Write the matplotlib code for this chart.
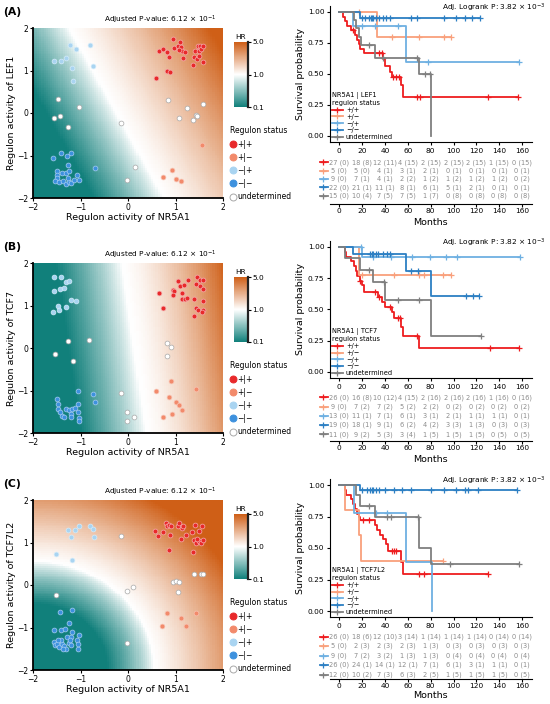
import numpy as np
import matplotlib
matplotlib.use("Agg")
import matplotlib.pyplot as plt
from matplotlib.colors import LinearSegmentedColormap, TwoSlopeNorm
from matplotlib.lines import Line2D

W, H = 550, 704

# ---------------- data: scatter (NR5A1 activity, partner activity) ----------------
genes = ["LEF1", "TCF7", "TCF7L2"]
sc_labels = ["+|+", "+|\u2212", "\u2212|+", "\u2212|\u2212", "undetermined"]
km_labels = ["+/+", "+/\u2212", "\u2212/+", "\u2212/\u2212", "undetermined"]

A_pp = [(0.58, 0.82), (0.65, 1.47), (0.73, 1.50), (0.82, 1.00), (0.89, 0.96), (0.87, 1.32),
        (0.83, 1.44), (0.94, 1.73), (0.96, 1.52), (1.06, 1.57), (1.09, 1.66), (1.11, 1.55),
        (1.13, 1.47), (1.08, 1.49), (1.16, 1.30), (1.20, 1.44), (1.36, 1.14), (1.39, 1.32),
        (1.41, 1.47), (1.45, 1.26), (1.48, 1.57), (1.50, 1.45), (1.52, 1.58), (1.54, 1.51),
        (1.57, 1.57), (1.58, 1.19), (1.50, 1.33)]
A_pm = [(1.55, -0.76), (0.73, -1.51), (0.92, -1.33), (1.01, -1.55), (1.12, -1.59)]
A_mp = [(-1.23, 1.61), (-0.81, 1.61), (-1.10, 1.51), (-1.55, 1.23), (-1.41, 1.22),
        (-1.31, 1.29), (-1.17, 1.06), (-0.74, 1.11), (-1.16, 0.75)]
A_mm = [(-1.57, -1.06), (-1.42, -0.93), (-1.29, -1.02), (-1.20, -0.93), (-1.26, -1.23),
        (-1.50, -1.37), (-1.50, -1.45), (-1.49, -1.53), (-1.40, -1.40), (-1.31, -1.41),
        (-1.24, -1.37), (-1.54, -1.61), (-1.45, -1.63), (-1.36, -1.61), (-1.31, -1.67),
        (-1.24, -1.62), (-1.19, -1.65), (-1.26, -1.53), (-1.07, -1.47), (-1.04, -1.57),
        (-0.70, -1.29), (-1.14, -1.57)]
A_un = [(-1.47, 0.33), (-1.03, 0.14), (-1.43, -0.06), (-1.56, -0.12), (-1.27, -0.34),
        (-0.14, -0.24), (0.14, -1.27), (-0.02, -1.57), (0.85, 0.31), (1.24, 0.12),
        (1.57, 0.21), (1.08, -0.12), (1.37, -0.16), (1.43, -0.04), (1.46, -0.07)]

B_pp = [(0.65, 1.29), (0.74, 0.93), (0.94, 1.37), (0.97, 1.33), (1.06, 1.57), (1.10, 1.46),
        (1.13, 1.29), (1.17, 1.49), (1.14, 1.15), (1.19, 1.15), (1.25, 1.17), (1.39, 1.16),
        (1.38, 0.76), (1.43, 0.95), (1.43, 1.50), (1.46, 1.66), (1.52, 1.61), (1.58, 1.61),
        (1.52, 1.45), (1.57, 1.38), (1.57, 1.11), (1.48, 0.90), (1.57, 0.90), (1.56, 0.85),
        (0.94, 1.25), (1.26, 1.61)]
B_pm = [(0.58, -1.00), (0.90, -0.78), (0.86, -1.16), (1.01, -1.27), (1.08, -1.33),
        (1.13, -1.47), (0.92, -1.56), (0.73, -1.63), (1.43, -0.97)]
B_mp = [(-1.55, 1.68), (-1.42, 1.68), (-1.30, 1.55), (-1.24, 1.58), (-1.55, 1.33),
        (-1.43, 1.39), (-1.47, 1.00), (-1.45, 0.90), (-1.57, 0.84), (-1.30, 0.96),
        (-1.21, 1.13), (-1.10, 1.11), (-1.35, 1.42)]
B_mm = [(-1.06, -1.02), (-0.74, -1.09), (-0.70, -1.27), (-1.50, -1.20), (-1.48, -1.31),
        (-1.47, -1.43), (-1.43, -1.51), (-1.39, -1.61), (-1.35, -1.63), (-1.30, -1.43),
        (-1.25, -1.47), (-1.21, -1.56), (-1.17, -1.43), (-1.05, -1.31), (-1.05, -1.51),
        (-1.03, -1.64), (-1.03, -1.71), (-1.12, -1.41), (-1.19, -1.63)]
B_un = [(-1.26, 0.16), (-0.82, 0.20), (-1.53, -0.13), (-1.16, -0.30), (0.83, 0.12),
        (0.90, 0.03), (0.83, -0.19), (-0.14, -1.05), (-0.02, -1.51), (-0.02, -1.71),
        (0.12, -1.63)]

C_pp = [(0.56, 1.26), (0.63, 1.15), (0.73, 1.24), (0.80, 1.47), (0.83, 1.38), (0.87, 1.42),
        (0.91, 1.38), (0.89, 1.18), (0.87, 0.83), (1.05, 1.38), (1.08, 1.47), (1.13, 1.34),
        (1.15, 1.38), (1.12, 1.08), (1.22, 1.18), (1.35, 1.25), (1.42, 1.42), (1.38, 1.07),
        (1.36, 0.78), (1.43, 0.99), (1.49, 1.26), (1.50, 1.03), (1.55, 1.38), (1.53, 0.99),
        (1.57, 1.07), (1.46, 1.09)]
C_pm = [(0.82, -0.66), (1.12, -0.77), (0.72, -0.97), (1.22, -0.97), (1.44, -0.66)]
C_mp = [(-1.26, 1.30), (-1.19, 1.13), (-1.11, 1.29), (-1.03, 1.40), (-0.81, 1.38),
        (-0.74, 1.32), (-0.71, 1.13), (-1.51, 0.72), (-1.17, 0.60)]
C_mm = [(-1.44, -0.64), (-1.17, -0.58), (-1.25, -0.90), (-1.55, -1.07), (-1.42, -1.07),
        (-1.32, -1.03), (-1.18, -1.11), (-1.04, -1.18), (-1.56, -1.34), (-1.54, -1.42),
        (-1.49, -1.38), (-1.46, -1.46), (-1.39, -1.38), (-1.35, -1.44), (-1.30, -1.51),
        (-1.25, -1.36), (-1.28, -1.22), (-1.21, -1.22), (-1.23, -1.30), (-1.07, -1.29),
        (-1.06, -1.50), (-1.05, -1.38), (-1.42, -1.30), (-1.48, -1.29), (-1.37, -1.50),
        (-1.19, -1.42)]
C_un = [(-0.15, 1.16), (-1.51, -0.23), (-0.03, -0.15), (0.11, -0.04), (-0.03, -1.36),
        (0.94, 0.08), (1.01, 0.10), (1.08, 0.08), (1.06, -0.16), (1.39, 0.25),
        (1.53, 0.27), (1.57, 0.27)]

# HR surface behind the scatter (read from the shading): boundary where HR = 1,
# (distance to full colour, curve exponent) for the teal and the orange side
surfA = dict(kind="lin", coef=(1.0, 0.5, 0.25), neg=(1.5, 0.85), pos=(3.0, 1.3))
surfB = dict(kind="lin", coef=(1.0, 0.13, -0.12), neg=(1.4, 0.85), pos=(2.2, 1.5))
surfC = dict(kind="rad", coef=(-2.0, -2.0, 2.55), neg=(1.0, 0.8), pos=(2.2, 1.2))

# ---------------- data: Kaplan-Meier (event times, survival after event, censor times) ----
kmA_pp = dict(t=[3, 5, 7, 10, 14, 16, 17, 18, 22, 38, 40, 44, 46, 54, 56],
              s=[0.963, 0.926, 0.889, 0.852, 0.815, 0.778, 0.741, 0.704, 0.667, 0.617, 0.567, 0.52, 0.473, 0.41, 0.315],
              c=[12, 35, 37, 47, 50, 52, 68, 71, 130, 156], end=156)
kmA_pm = dict(t=[33], s=[0.80], c=[17, 46, 70, 92, 98], end=98)
kmA_mp = dict(t=[12, 58], s=[0.889, 0.593], c=[20, 31, 51, 78, 157], end=157)
kmA_mm = dict(t=[18], s=[0.955], c=[20, 23, 26, 28, 29, 30, 32, 35, 38, 41, 44, 63, 68, 92, 102, 110, 116, 123], end=123)
kmA_un = dict(t=[13, 15, 17, 19, 31, 70, 80], s=[0.933, 0.867, 0.8, 0.733, 0.63, 0.5, 0.0],
              c=[26, 38, 68, 75, 79], end=80)

kmB_pp = dict(t=[5, 6, 10, 13, 15, 16, 18, 20, 22, 34, 37, 40, 46, 48, 54, 56, 70],
              s=[0.962, 0.923, 0.885, 0.846, 0.808, 0.769, 0.731, 0.692, 0.64, 0.60, 0.56, 0.52, 0.48, 0.43, 0.36, 0.29, 0.19],
              c=[18, 31, 35, 44, 51, 53, 68, 132, 157], end=157)
kmB_pm = dict(t=[17], s=[0.778], c=[20, 48, 70, 74, 91, 98], end=98)
kmB_mp = dict(t=[20], s=[0.917], c=[19, 30, 45, 64, 79, 93, 103, 158], end=158)
kmB_mm = dict(t=[12, 58, 80], s=[0.947, 0.81, 0.61], c=[27, 28.5, 30, 32, 34, 38, 41.5, 44.5, 63, 68.5, 111, 117, 122], end=122)
kmB_un = dict(t=[5, 18, 30, 40, 80], s=[0.909, 0.818, 0.716, 0.573, 0.286], c=[26, 39, 51, 70, 124], end=124)

kmC_pp = dict(t=[5, 6, 10, 12, 14, 16, 17, 18, 31, 33, 36, 38, 41, 43, 54, 56],
              s=[0.962, 0.923, 0.885, 0.846, 0.808, 0.77, 0.75, 0.72, 0.68, 0.64, 0.60, 0.57, 0.535, 0.48, 0.39, 0.29],
              c=[21, 26, 46, 48, 50, 70, 74, 130], end=130)
kmC_pm = dict(t=[5, 17, 19], s=[0.8, 0.6, 0.4], c=[91], end=91)
kmC_mp = dict(t=[13, 58, 81], s=[0.778, 0.389, 0.0], c=[32, 42], end=81)
kmC_mm = dict(t=[18], s=[0.962], c=[20, 24, 27, 29, 30, 32, 35, 40, 48, 55, 63, 80, 92, 102, 110, 113, 121, 155], end=155)
kmC_un = dict(t=[15, 18, 31, 70, 80], s=[0.917, 0.833, 0.75, 0.5, 0.375], c=[26, 42, 45, 69, 97, 157], end=157)

risk_times = [0, 20, 40, 60, 80, 100, 120, 140, 160]
riskA_n = [[27, 18, 12, 4, 2, 2, 2, 1, 0], [5, 5, 4, 3, 2, 0, 0, 0, 0], [9, 7, 4, 2, 1, 1, 1, 1, 0],
           [22, 21, 11, 8, 6, 5, 2, 0, 0], [15, 10, 7, 7, 1, 0, 0, 0, 0]]
riskA_e = [[0, 8, 11, 15, 15, 15, 15, 15, 15], [0, 0, 1, 1, 1, 1, 1, 1, 1], [0, 1, 1, 2, 2, 2, 2, 2, 2],
           [0, 1, 1, 1, 1, 1, 1, 1, 1], [0, 4, 5, 5, 7, 8, 8, 8, 8]]
riskB_n = [[26, 16, 10, 4, 2, 2, 2, 1, 0], [9, 7, 7, 5, 2, 0, 0, 0, 0], [13, 11, 7, 6, 3, 2, 1, 1, 0],
           [19, 18, 9, 6, 4, 3, 1, 0, 0], [11, 9, 5, 3, 1, 1, 1, 0, 0]]
riskB_e = [[0, 8, 12, 15, 16, 16, 16, 16, 16], [0, 2, 2, 2, 2, 2, 2, 2, 2], [0, 1, 1, 1, 1, 1, 1, 1, 1],
           [0, 1, 1, 2, 2, 3, 3, 3, 3], [0, 2, 3, 4, 5, 5, 5, 5, 5]]
riskC_n = [[26, 18, 12, 3, 1, 1, 1, 0, 0], [5, 2, 2, 2, 1, 0, 0, 0, 0], [9, 7, 3, 1, 1, 0, 0, 0, 0],
           [26, 24, 14, 12, 7, 6, 3, 1, 0], [12, 10, 7, 6, 2, 1, 1, 1, 0]]
riskC_e = [[0, 6, 10, 14, 14, 14, 14, 14, 14], [0, 3, 3, 3, 3, 3, 3, 3, 3], [0, 2, 2, 3, 3, 4, 4, 4, 4],
           [0, 1, 1, 1, 1, 1, 1, 1, 1], [0, 2, 3, 3, 5, 5, 5, 5, 5]]

hm_pval = r"Adjusted P-value: 6.12 $\times$ 10$^{-1}$"
km_pval = r"Adj. Logrank P: 3.82 $\times$ 10$^{-3}$"

# ---------------- styles ----------------
sc_face = ["#e8292b", "#f28a6b", "#a9d4f1", "#3d91de", "white"]
sc_edge = ["#f5b0b0", "#f8c4b4", "#d6ecfa", "#a8cdf2", "#a8a8a8"]
km_col = ["#ee1c1f", "#f9a07c", "#6eb0e2", "#2c7fc3", "#7f7f7f"]
cmap = LinearSegmentedColormap.from_list("hr", ["#11807b", "#ffffff", "#cf5f17"])
norm = TwoSlopeNorm(vcenter=1.0, vmin=0.1, vmax=5.0)

fig = plt.figure(figsize=(5.5, 7.04), dpi=100)


def px_axes(l, t, r, b):
    return fig.add_axes([l / W, 1 - b / H, (r - l) / W, (b - t) / H])


def surface(X, Y, sf):
    if sf["kind"] == "lin":
        a, b, e = sf["coef"]
        d = a * X + b * Y + e
    else:
        cx, cy, r = sf["coef"]
        d = np.sqrt((X - cx) ** 2 + (Y - cy) ** 2) - r
    nd, ng = sf["neg"]
    pd, pg = sf["pos"]
    v = np.where(d < 0, -np.minimum(1, (np.abs(d) / nd) ** ng), np.minimum(1, (np.abs(d) / pd) ** pg))
    return np.where(v < 0, 1 + 0.9 * v, 1 + 4.0 * v)


def surv_at(g, tt):
    s = 1.0
    for ti, si in zip(g["t"], g["s"]):
        if ti <= tt:
            s = si
    return s


panels = [
    dict(letter="(A)", gene=genes[0], pts=[A_pp, A_pm, A_mp, A_mm, A_un], surf=surfA,
         km=[kmA_pp, kmA_pm, kmA_mp, kmA_mm, kmA_un], rn=riskA_n, re=riskA_e,
         o=0, y1=12, y0=136, r0=162.3, rs=8.35, sp=204, my=222),
    dict(letter="(B)", gene=genes[1], pts=[B_pp, B_pm, B_mp, B_mm, B_un], surf=surfB,
         km=[kmB_pp, kmB_pm, kmB_mp, kmB_mm, kmB_un], rn=riskB_n, re=riskB_e,
         o=235, y1=247, y0=372, r0=397.3, rs=9.3, sp=441, my=459),
    dict(letter="(C)", gene=genes[2], pts=[C_pp, C_pm, C_mp, C_mm, C_un], surf=surfC,
         km=[kmC_pp, kmC_pm, kmC_mp, kmC_mm, kmC_un], rn=riskC_n, re=riskC_e,
         o=472, y1=485, y0=611, r0=636.7, rs=9.5, sp=679, my=696),
]

grid = np.linspace(-2, 2, 90)
GX, GY = np.meshgrid(grid, grid)

for p in panels:
    o = p["o"]
    # ---- heatmap + scatter ----
    ax = px_axes(33, 28 + o, 223, 198 + o)
    hr = surface(GX, GY, p["surf"])
    im = ax.imshow(hr, extent=(-2, 2, -2, 2), origin="lower", cmap=cmap, norm=norm,
                   aspect="auto", interpolation="nearest")
    for pts, fc, ec in zip(p["pts"], sc_face, sc_edge):
        xs = [q[0] for q in pts]
        ys = [q[1] for q in pts]
        ax.scatter(xs, ys, s=12, c=fc, edgecolors=ec, linewidths=0.5, zorder=3)
    ax.set_xlim(-2, 2)
    ax.set_ylim(-2, 2)
    ax.set_xticks([-2, -1, 0, 1, 2])
    ax.set_yticks([-2, -1, 0, 1, 2])
    ax.tick_params(labelsize=5.5, length=2, width=0.8, pad=1.5)
    for s in ["top", "right"]:
        ax.spines[s].set_visible(False)
    for s in ["left", "bottom"]:
        ax.spines[s].set_linewidth(1.3)
    ax.set_xlabel("Regulon activity of NR5A1", fontsize=6.8, labelpad=1)
    ax.set_ylabel("Regulon activity of " + p["gene"], fontsize=6.8, labelpad=1)
    fig.text(217 / W, 1 - (20 + o) / H, hm_pval, fontsize=5.3, ha="right", va="center")
    fig.text(3 / W, 1 - (12 + o) / H, p["letter"], fontsize=7.8, fontweight="bold", va="center")

    cax = px_axes(234, 42 + o, 248, 107 + o)
    cb = fig.colorbar(im, cax=cax, ticks=[0.1, 1.0, 5.0], format="%.1f")
    cb.outline.set_visible(False)
    cax.plot([1, 1], [0, 1], transform=cax.transAxes, color="#222222", lw=1.6, clip_on=False)
    cax.tick_params(labelsize=5.3, length=2, width=0.8, pad=1)
    cax.set_title("HR", fontsize=5.3, pad=2)

    handles = [Line2D([], [], marker="o", ls="", ms=5, mfc=fc, mec=ec, mew=0.7)
               for fc, ec in zip(sc_face, ["#e8292b", "#f28a6b", "#a9d4f1", "#3d91de", "#a8a8a8"])]
    ax.legend(handles, sc_labels, title="Regulon status", loc="upper left",
              bbox_to_anchor=(225 / W, 1 - (121 + o) / H), bbox_transform=fig.transFigure,
              frameon=False, fontsize=5.5, title_fontsize=5.5, handlelength=0.7,
              handletextpad=0.25, labelspacing=0.55, borderpad=0.2, alignment="left")

    # ---- Kaplan-Meier ----
    span = p["y0"] - p["y1"]
    kax = px_axes(330, p["y1"] - 0.05 * span, 532, p["y0"] + 0.05 * span)
    for g, col in zip(p["km"], km_col):
        xs = [0] + list(g["t"]) + [g["end"]]
        ys = [1.0] + list(g["s"]) + [g["s"][-1]]
        kax.step(xs, ys, where="post", color=col, lw=1.3)
        kax.plot(g["c"], [surv_at(g, c) for c in g["c"]], ls="", marker="+", ms=5, mew=0.9, color=col)
    kax.set_xlim(-8, 168.5)
    kax.set_ylim(-0.05, 1.05)
    kax.set_xticks(risk_times)
    kax.set_yticks([0, 0.25, 0.5, 0.75, 1.0])
    kax.set_yticklabels(["0.00", "0.25", "0.50", "0.75", "1.00"])
    kax.tick_params(labelsize=5.3, length=2.5, width=0.8, pad=1.5)
    for s in ["top", "right"]:
        kax.spines[s].set_visible(False)
    kax.set_ylabel("Survival probability", fontsize=6.8, labelpad=2)
    kh = [Line2D([], [], color=c, lw=1.3, marker="+", ms=5, mew=0.9) for c in km_col]
    kax.legend(kh, km_labels, title="NR5A1 | " + p["gene"] + "\nregulon status", loc="lower left",
               frameon=False, fontsize=4.8, title_fontsize=4.8, handlelength=1.6,
               handletextpad=0.5, labelspacing=0.12, borderpad=0.1, borderaxespad=0.2,
               alignment="left")
    fig.text(546 / W, 1 - (p["y1"] - 4) / H, km_pval, fontsize=5.3, ha="right", va="center")

    # ---- risk table ----
    top = p["r0"] - 6
    rax = px_axes(330, top, 532, p["sp"])
    rax.set_xlim(-8, 168.5)
    rax.set_ylim(p["sp"], top)
    for i, (ns, es) in enumerate(zip(p["rn"], p["re"])):
        yy = p["r0"] + i * p["rs"]
        for tt, n, e in zip(risk_times, ns, es):
            rax.text(tt, yy, f"{n} ({e})", ha="center", va="center", fontsize=4.8, color="#8c8c8c")
        rax.plot([-17, -10], [yy, yy], color=km_col[i], lw=1.3, clip_on=False)
        rax.plot([-14], [yy], marker="+", ms=5, mew=0.9, color=km_col[i], clip_on=False)
    rax.set_xticks(risk_times)
    rax.set_yticks([])
    rax.tick_params(labelsize=5.3, length=2, width=0.8, pad=0.8)
    for s in ["top", "right", "left"]:
        rax.spines[s].set_visible(False)
    fig.text(430.5 / W, 1 - p["my"] / H, "Months", fontsize=6.8, ha="center", va="center")

fig.savefig("out.png", dpi=100)
